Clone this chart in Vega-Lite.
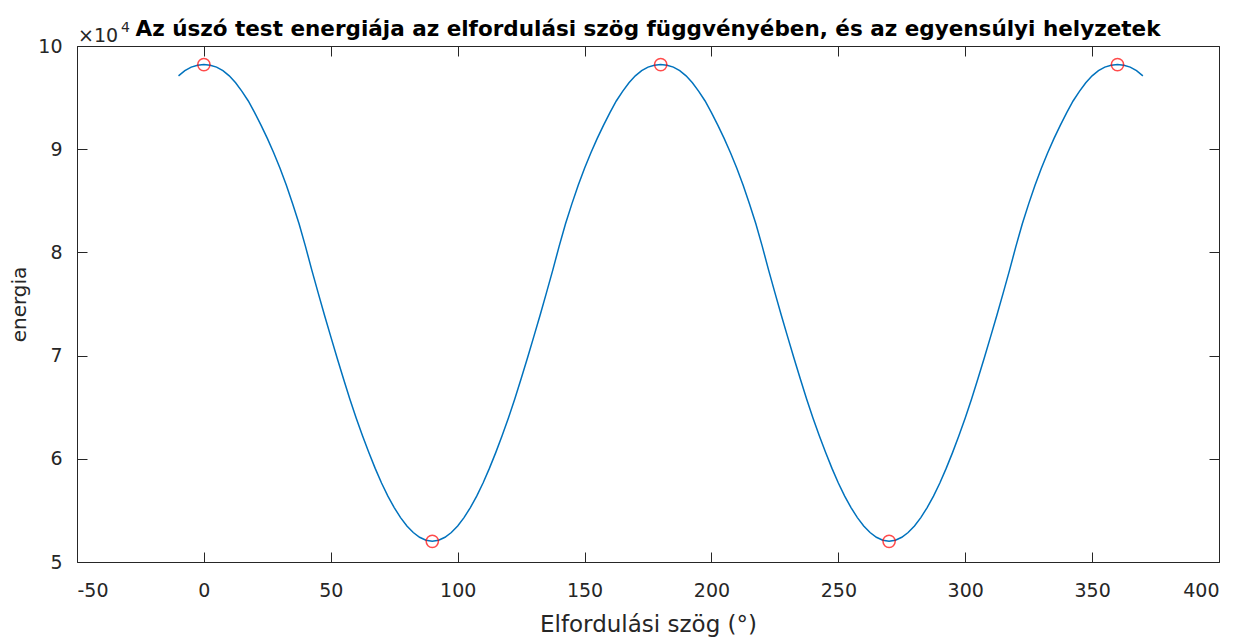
{
  "$schema": "https://vega.github.io/schema/vega-lite/v6.json",
  "width": 1142,
  "height": 516,
  "autosize": {"type": "none"},
  "padding": {"left": 77, "top": 46, "right": 27, "bottom": 76},
  "background": "white",
  "config": {
    "font": "DejaVu Sans",
    "view": {"stroke": "#262626", "strokeWidth": 1},
    "axis": {"grid": false, "domain": false, "tickColor": "#262626", "labelColor": "#262626", "titleColor": "#262626", "labelFont": "DejaVu Sans", "titleFont": "DejaVu Sans", "labelFontSize": 19, "titleFontSize": 23, "titleFontWeight": "normal", "tickSize": -10, "labelPadding": 16}
  },
  "title": {"text": "Az úszó test energiája az elfordulási szög függvényében, és az egyensúlyi helyzetek", "font": "DejaVu Sans", "fontSize": 21.5, "fontWeight": "bold", "color": "#000000", "anchor": "middle", "offset": -19},
  "datasets": {
    "curve": [
      {"a": -10, "e": 97110}, {"a": -7.5, "e": 97610}, {"a": -5, "e": 97950}, {"a": -2.5, "e": 98140},
      {"a": 0, "e": 98200}, {"a": 2.5, "e": 98140}, {"a": 5, "e": 97950}, {"a": 7.5, "e": 97610}, {"a": 10, "e": 97110}, {"a": 12.5, "e": 96440}, {"a": 15, "e": 95610}, {"a": 17.5, "e": 94670}, {"a": 20, "e": 93550}, {"a": 22.5, "e": 92330}, {"a": 25, "e": 91050}, {"a": 27.5, "e": 89650}, {"a": 30, "e": 88150}, {"a": 32.5, "e": 86510}, {"a": 35, "e": 84700}, {"a": 37.5, "e": 82780}, {"a": 40, "e": 80610}, {"a": 42.5, "e": 78310}, {"a": 45, "e": 76100}, {"a": 47.5, "e": 73940}, {"a": 50, "e": 71840}, {"a": 52.5, "e": 69770}, {"a": 55, "e": 67750}, {"a": 57.5, "e": 65790}, {"a": 60, "e": 63950}, {"a": 62.5, "e": 62230}, {"a": 65, "e": 60600}, {"a": 67.5, "e": 59070}, {"a": 70, "e": 57650}, {"a": 72.5, "e": 56380}, {"a": 75, "e": 55270}, {"a": 77.5, "e": 54300}, {"a": 80, "e": 53490}, {"a": 82.5, "e": 52860}, {"a": 85, "e": 52400}, {"a": 87.5, "e": 52110}, {"a": 90, "e": 52000},
      {"a": 92.5, "e": 52110}, {"a": 95, "e": 52400}, {"a": 97.5, "e": 52860}, {"a": 100, "e": 53490}, {"a": 102.5, "e": 54300}, {"a": 105, "e": 55270}, {"a": 107.5, "e": 56380}, {"a": 110, "e": 57650}, {"a": 112.5, "e": 59070}, {"a": 115, "e": 60600}, {"a": 117.5, "e": 62230}, {"a": 120, "e": 63950}, {"a": 122.5, "e": 65790}, {"a": 125, "e": 67750}, {"a": 127.5, "e": 69770}, {"a": 130, "e": 71840}, {"a": 132.5, "e": 73940}, {"a": 135, "e": 76100}, {"a": 137.5, "e": 78310}, {"a": 140, "e": 80610}, {"a": 142.5, "e": 82780}, {"a": 145, "e": 84700}, {"a": 147.5, "e": 86510}, {"a": 150, "e": 88150}, {"a": 152.5, "e": 89650}, {"a": 155, "e": 91050}, {"a": 157.5, "e": 92330}, {"a": 160, "e": 93550}, {"a": 162.5, "e": 94670}, {"a": 165, "e": 95610}, {"a": 167.5, "e": 96440}, {"a": 170, "e": 97110}, {"a": 172.5, "e": 97610}, {"a": 175, "e": 97950}, {"a": 177.5, "e": 98140}, {"a": 180, "e": 98200},
      {"a": 182.5, "e": 98140}, {"a": 185, "e": 97950}, {"a": 187.5, "e": 97610}, {"a": 190, "e": 97110}, {"a": 192.5, "e": 96440}, {"a": 195, "e": 95610}, {"a": 197.5, "e": 94670}, {"a": 200, "e": 93550}, {"a": 202.5, "e": 92330}, {"a": 205, "e": 91050}, {"a": 207.5, "e": 89650}, {"a": 210, "e": 88150}, {"a": 212.5, "e": 86510}, {"a": 215, "e": 84700}, {"a": 217.5, "e": 82780}, {"a": 220, "e": 80610}, {"a": 222.5, "e": 78310}, {"a": 225, "e": 76100}, {"a": 227.5, "e": 73940}, {"a": 230, "e": 71840}, {"a": 232.5, "e": 69770}, {"a": 235, "e": 67750}, {"a": 237.5, "e": 65790}, {"a": 240, "e": 63950}, {"a": 242.5, "e": 62230}, {"a": 245, "e": 60600}, {"a": 247.5, "e": 59070}, {"a": 250, "e": 57650}, {"a": 252.5, "e": 56380}, {"a": 255, "e": 55270}, {"a": 257.5, "e": 54300}, {"a": 260, "e": 53490}, {"a": 262.5, "e": 52860}, {"a": 265, "e": 52400}, {"a": 267.5, "e": 52110}, {"a": 270, "e": 52000},
      {"a": 272.5, "e": 52110}, {"a": 275, "e": 52400}, {"a": 277.5, "e": 52860}, {"a": 280, "e": 53490}, {"a": 282.5, "e": 54300}, {"a": 285, "e": 55270}, {"a": 287.5, "e": 56380}, {"a": 290, "e": 57650}, {"a": 292.5, "e": 59070}, {"a": 295, "e": 60600}, {"a": 297.5, "e": 62230}, {"a": 300, "e": 63950}, {"a": 302.5, "e": 65790}, {"a": 305, "e": 67750}, {"a": 307.5, "e": 69770}, {"a": 310, "e": 71840}, {"a": 312.5, "e": 73940}, {"a": 315, "e": 76100}, {"a": 317.5, "e": 78310}, {"a": 320, "e": 80610}, {"a": 322.5, "e": 82780}, {"a": 325, "e": 84700}, {"a": 327.5, "e": 86510}, {"a": 330, "e": 88150}, {"a": 332.5, "e": 89650}, {"a": 335, "e": 91050}, {"a": 337.5, "e": 92330}, {"a": 340, "e": 93550}, {"a": 342.5, "e": 94670}, {"a": 345, "e": 95610}, {"a": 347.5, "e": 96440}, {"a": 350, "e": 97110}, {"a": 352.5, "e": 97610}, {"a": 355, "e": 97950}, {"a": 357.5, "e": 98140}, {"a": 360, "e": 98200},
      {"a": 362.5, "e": 98140}, {"a": 365, "e": 97950}, {"a": 367.5, "e": 97610}, {"a": 370, "e": 97110}
    ],
    "eq": [
      {"a": 0, "e": 98200}, {"a": 90, "e": 52000}, {"a": 180, "e": 98200}, {"a": 270, "e": 52000}, {"a": 360, "e": 98200}
    ],
    "note": [{"t": "×10", "s": "4"}]
  },
  "layer": [
    {
      "data": {"name": "curve"},
      "mark": {"type": "line", "color": "#0072BD", "strokeWidth": 1.5, "clip": true},
      "encoding": {
        "x": {"field": "a", "type": "quantitative", "scale": {"domain": [-50, 400], "nice": false, "zero": false}, "axis": {"orient": "bottom", "values": [-50, 0, 50, 100, 150, 200, 250, 300, 350, 400], "labelExpr": "replace(datum.label, '−', '-')", "title": "Elfordulási szög (°)", "labelPadding": 29, "titlePadding": 13}},
        "y": {"field": "e", "type": "quantitative", "scale": {"domain": [50000, 100000], "nice": false, "zero": false}, "axis": {"orient": "left", "values": [50000, 60000, 70000, 80000, 90000, 100000], "labelExpr": "format(datum.value / 10000, 'd')", "title": "energia", "labelPadding": 25, "titlePadding": 8, "titleFontSize": 20}}
      }
    },
    {
      "data": {"name": "eq"},
      "mark": {"type": "point", "shape": "circle", "filled": false, "color": "#FF0000", "strokeWidth": 1.5, "size": 150},
      "encoding": {
        "x": {"field": "a", "type": "quantitative", "axis": {"orient": "top", "values": [-50, 0, 50, 100, 150, 200, 250, 300, 350, 400], "labels": false, "title": null}},
        "y": {"field": "e", "type": "quantitative", "axis": {"orient": "right", "values": [50000, 60000, 70000, 80000, 90000, 100000], "labels": false, "title": null}}
      }
    },
    {
      "data": {"name": "note"},
      "mark": {"type": "text", "align": "left", "baseline": "alphabetic", "dx": 1, "dy": -4, "fontSize": 19, "color": "#262626", "font": "DejaVu Sans"},
      "encoding": {
        "x": {"datum": -50, "type": "quantitative", "axis": null},
        "y": {"datum": 100000, "type": "quantitative", "axis": null},
        "text": {"field": "t"}
      }
    },
    {
      "data": {"name": "note"},
      "mark": {"type": "text", "align": "left", "baseline": "alphabetic", "dx": 44, "dy": -14, "fontSize": 14, "color": "#262626", "font": "DejaVu Sans"},
      "encoding": {
        "x": {"datum": -50, "type": "quantitative", "axis": null},
        "y": {"datum": 100000, "type": "quantitative", "axis": null},
        "text": {"field": "s"}
      }
    }
  ],
  "resolve": {"axis": {"x": "independent", "y": "independent"}}
}
